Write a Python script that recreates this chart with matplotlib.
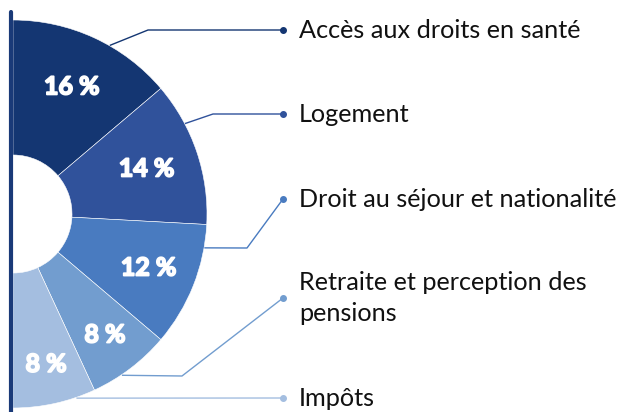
import numpy as np
import matplotlib.pyplot as plt
import matplotlib.patheffects as pe

categories = ['Accès aux droits en santé', 'Logement', 'Droit au séjour et nationalité',
              'Retraite et perception des\npensions', 'Impôts']
values = [16, 14, 12, 8, 8]
pct_labels = ['16 %', '14 %', '12 %', '8 %', '8 %']
colors = ['#143672', '#30529b', '#497bc0', '#729dcf', '#a4bee0']

W, H = 627, 412
cx, cy = 13, H - 214
R, r_in = 194, 59

fig = plt.figure(figsize=(W / 100, H / 100), dpi=100)
ax = fig.add_axes([0, 0, 1, 1])

# half donut: pad with an invisible wedge of equal size
total = sum(values)
wedges, _ = ax.pie(values + [total], colors=colors + ['none'], radius=R, center=(cx, cy),
                   startangle=90, counterclock=False,
                   wedgeprops=dict(width=R - r_in, edgecolor='white', linewidth=0.4))
wedges[-1].set_edgecolor('none')

# percent labels inside wedges
cum = np.cumsum([0] + values)
label_r = [140, 141, 146, 152, 154]
for i, lab in enumerate(pct_labels):
    mid = np.deg2rad(90 - (cum[i] + values[i] / 2) / (2 * total) * 360)
    ax.text(cx + label_r[i] * np.cos(mid), cy + label_r[i] * np.sin(mid), lab, color='white',
            fontsize=18, fontweight='bold', family='Lato', ha='center', va='center',
            path_effects=[pe.withStroke(linewidth=1.3, foreground='white')])

# vertical axis line
ax.plot([11, 11], [0, H - 12], color='#1a3a78', lw=3, solid_capstyle='round')

# connectors: angle on the rim, elbow point, label y (pixels from top)
edge_angles = [60, 27.7, -10, -55.8, -70.8]
elbows = [(148, 30), (213, 114), (247, 248), (182, 376), None]
label_y = [30, 114, 199, 298, 398]
dot_x, text_x = 283, 299
for i, cat in enumerate(categories):
    a = np.deg2rad(edge_angles[i])
    ex, ey = cx + (R + 1) * np.cos(a), cy + (R + 1) * np.sin(a)
    ly = H - label_y[i]
    if elbows[i] is None:
        xs, ys = [ex, dot_x], [ey, ly]
    else:
        bx, by = elbows[i][0], H - elbows[i][1]
        xs, ys = [ex, bx, dot_x], [ey, by, ly]
    ax.plot(xs, ys, color=colors[i], lw=1.0)
    ax.plot([dot_x], [ly], 'o', color=colors[i], ms=4)
    ax.text(text_x, ly, cat, fontsize=18.2, family='Lato', color='#111111',
            ha='left', va='center', linespacing=1.45)

ax.set_xlim(0, W)
ax.set_ylim(0, H)
ax.set_aspect('equal')
ax.axis('off')

fig.savefig('out.png', dpi=100)
